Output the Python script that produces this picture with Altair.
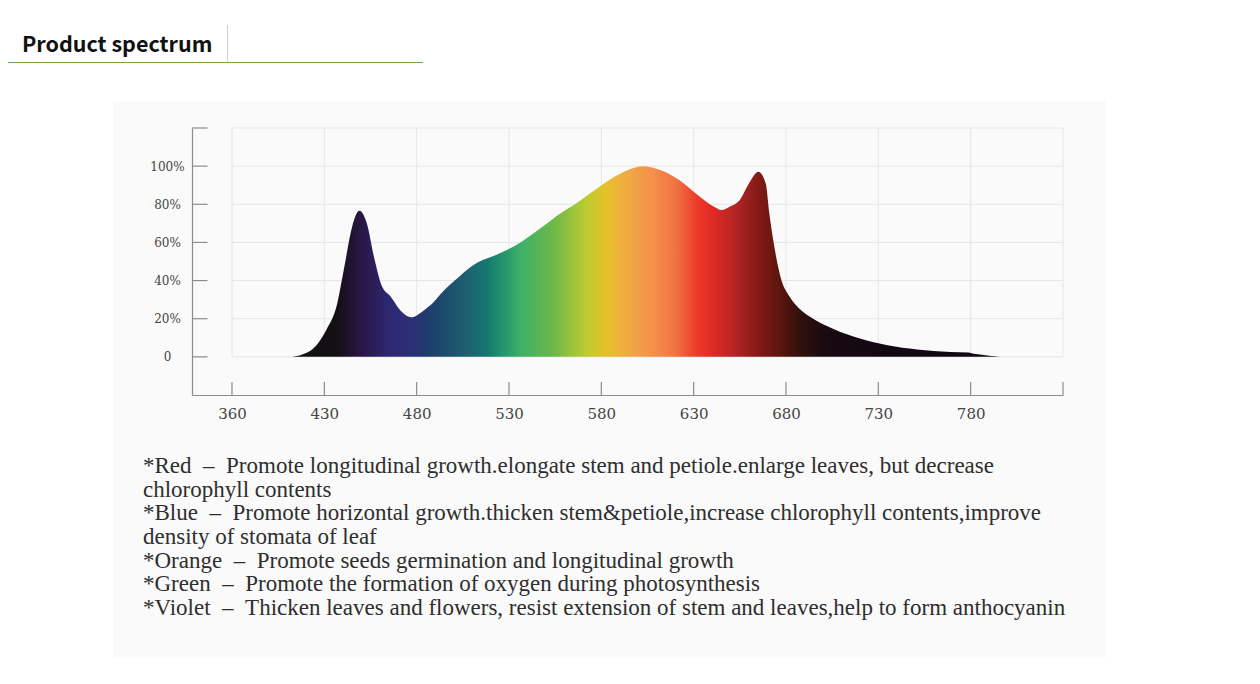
import altair as alt
import pandas as pd

# ---- data ----
wavelength_nm = [412, 418, 424, 431, 437, 441, 445, 449, 453, 457, 461, 466, 472, 477,
                 484, 489, 494, 503, 509, 513, 523, 534, 547, 559, 564, 569, 579, 588,
                 597, 602, 613, 622, 632, 641, 645, 650, 655, 660, 665, 669, 671, 674,
                 677, 682, 687, 693, 706, 720, 735, 751, 769, 779, 781, 784, 796]
intensity_pct = [0, 1.2, 4.4, 14, 28, 48, 68, 76.6, 70, 52, 37.5, 31.5, 23.5, 20.8,
                 24.5, 28.5, 34, 42, 47, 49.5, 53.4, 58.6, 67.4, 76, 79, 82.3, 89.2, 94.9,
                 98.9, 100, 97.6, 92.8, 85, 78.7, 77, 79, 82.3, 91, 97, 91, 75, 56,
                 42, 31.5, 25.5, 21, 14.5, 9.6, 6.1, 3.9, 2.6, 2.3, 1.8, 1.4, 0]

x_tick_values = [380, 430, 480, 530, 580, 630, 680, 730, 780]
x_tick_labels = ["360", "430", "480", "530", "580", "630", "680", "730", "780"]
x_grid_values = [380, 430, 480, 530, 580, 630, 680, 730, 780, 830]
y_tick_values = [0, 20, 40, 60, 80, 100]
y_tick_labels = ["0", "20%", "40%", "60%", "80%", "100%"]
y_grid_values = [0, 20, 40, 60, 80, 100, 120]

# spectrum colour stops (wavelength, colour)
stop_nm = [412, 437, 442, 453, 465, 476, 486, 496, 507, 518, 529, 536, 545, 554, 563,
           572, 583, 595, 608, 621, 632, 640, 653, 666, 677, 688, 702, 730, 796]
stop_color = ["#111111", "#141014", "#1f1128", "#2a1a50", "#2e2870", "#2c2e78", "#1f3c6c",
              "#1c4e6c", "#1d6070", "#157870", "#2a9a6c", "#3cb06a", "#55b458", "#6cb848",
              "#96c23c", "#bccc30", "#e6c02a", "#f0a844", "#f4904c", "#f07040", "#ec3a2a",
              "#e02a24", "#b02424", "#801a14", "#5a160e", "#30100c", "#180a10", "#120814",
              "#100a10"]

title_text = "Product spectrum"
SEP = "\u00a0\u00a0\u2013\u00a0\u00a0"
note_lines = [
    "*Red" + SEP + "Promote longitudinal growth.elongate stem and petiole.enlarge leaves, but decrease",
    "chlorophyll contents",
    "*Blue" + SEP + "Promote horizontal growth.thicken stem&petiole,increase chlorophyll contents,improve",
    "density of stomata of leaf",
    "*Orange" + SEP + "Promote seeds germination and longitudinal growth",
    "*Green" + SEP + "Promote the formation of oxygen during photosynthesis",
    "*Violet" + SEP + "Thicken leaves and flowers, resist extension of stem and leaves,help to form anthocyanin",
]

# ---- chart ----
W, H = 871, 267
X_DOMAIN = [358.35, 830]
Y_DOMAIN = [-20, 120]

spec_df = pd.DataFrame({"nm": wavelength_nm, "pct": intensity_pct})
lo, hi = min(wavelength_nm), max(wavelength_nm)
grad = alt.Gradient(
    gradient="linear", x1=0, x2=1, y1=0, y2=0,
    stops=[alt.GradientStop(offset=(n - lo) / (hi - lo), color=c) for n, c in zip(stop_nm, stop_color)],
)

label_expr = "[" + ",".join("'%s'" % s for s in x_tick_labels) + "][indexof([" + \
    ",".join(str(v) for v in x_tick_values) + "], datum.value)]"
ylabel_expr = "[" + ",".join("'%s'" % s for s in y_tick_labels) + "][indexof([" + \
    ",".join(str(v) for v in y_tick_values) + "], datum.value)]"

xs = alt.Scale(domain=X_DOMAIN, nice=False, zero=False)
ys = alt.Scale(domain=Y_DOMAIN, nice=False, zero=False)
xaxis = alt.Axis(
    values=x_tick_values, labelExpr=label_expr, ticks=False, tickSize=0, grid=False,
    domainColor="#8c8c8c", domainWidth=1.2, labelFont="DejaVu Serif", labelFontSize=15,
    labelColor="#444444", labelPadding=18, labelBaseline="middle", labelFlush=False,
    labelOverlap=False, title=None, zindex=2)
yaxis = alt.Axis(
    values=y_tick_values, labelExpr=ylabel_expr, ticks=False, tickSize=0, grid=False,
    domainColor="#8c8c8c", domainWidth=1.2, labelFont="DejaVu Serif", labelFontSize=12,
    labelColor="#444444", labelPadding=25, labelAlign="center", labelBaseline="middle",
    labelFlush=False, labelOverlap=False, title=None, zindex=2)

one = pd.DataFrame({"k": [0]})

panel = alt.Chart(one).mark_rect(color="#fafafa").encode(
    x=alt.value(-79), x2=alt.value(914), y=alt.value(-27), y2=alt.value(530)
)

vgrid = alt.Chart(pd.DataFrame({"v": x_grid_values})).mark_rule(color="#e6e6e6", strokeWidth=1).encode(
    x=alt.X("v:Q", scale=xs, axis=xaxis), y=alt.datum(0), y2=alt.datum(120)
)
hgrid = alt.Chart(pd.DataFrame({"v": y_grid_values})).mark_rule(color="#e6e6e6", strokeWidth=1).encode(
    y=alt.Y("v:Q", scale=ys, axis=yaxis), x=alt.datum(380), x2=alt.datum(830)
)

area = alt.Chart(spec_df).mark_area(color=grad, interpolate="monotone").encode(
    x=alt.X("nm:Q", scale=xs, axis=xaxis),
    y=alt.Y("pct:Q", scale=ys, axis=yaxis),
    y2=alt.datum(0),
)

xticks = alt.Chart(pd.DataFrame({"v": x_grid_values})).mark_rule(color="#8c8c8c", strokeWidth=1.2).encode(
    x=alt.X("v:Q", scale=xs, axis=xaxis), y=alt.value(H), y2=alt.value(H - 13)
)
yticks = alt.Chart(pd.DataFrame({"v": y_grid_values})).mark_rule(color="#8c8c8c", strokeWidth=1.2).encode(
    y=alt.Y("v:Q", scale=ys, axis=yaxis), x=alt.value(0), x2=alt.value(15.5)
)

notes = alt.Chart(one).mark_text(
    align="left", baseline="middle", font="Liberation Serif", fontSize=23,
    lineHeight=23.67, color="#2e2e2e"
).encode(x=alt.value(143 - 192), y=alt.value(466 - 128), text=alt.value(note_lines))

title = alt.Chart(one).mark_text(
    align="left", baseline="middle", font="Noto Sans CJK SC", fontWeight="bold",
    fontSize=21.5, color="#111111"
).encode(x=alt.value(22 - 192), y=alt.value(45.5 - 128), text=alt.value(title_text))

green = alt.Chart(one).mark_rule(color="#70ad47", strokeWidth=1).encode(
    x=alt.value(-192), x2=alt.value(423 - 192), y=alt.value(62.5 - 128)
)
sep = alt.Chart(one).mark_rule(color="#d0d0d0", strokeWidth=1).encode(
    x=alt.value(227.5 - 192), y=alt.value(25 - 128), y2=alt.value(62 - 128)
)

chart = alt.layer(panel, vgrid, hgrid, area, xticks, yticks, notes, title, green, sep).properties(
    width=W, height=H,
    autosize=alt.AutoSizeParams(type="none"),
    padding={"left": 184, "top": 120, "right": 150, "bottom": 270},
    background="white",
).configure_view(stroke=None)

chart.save("out.html", embed_options={"renderer": "svg", "actions": False})
